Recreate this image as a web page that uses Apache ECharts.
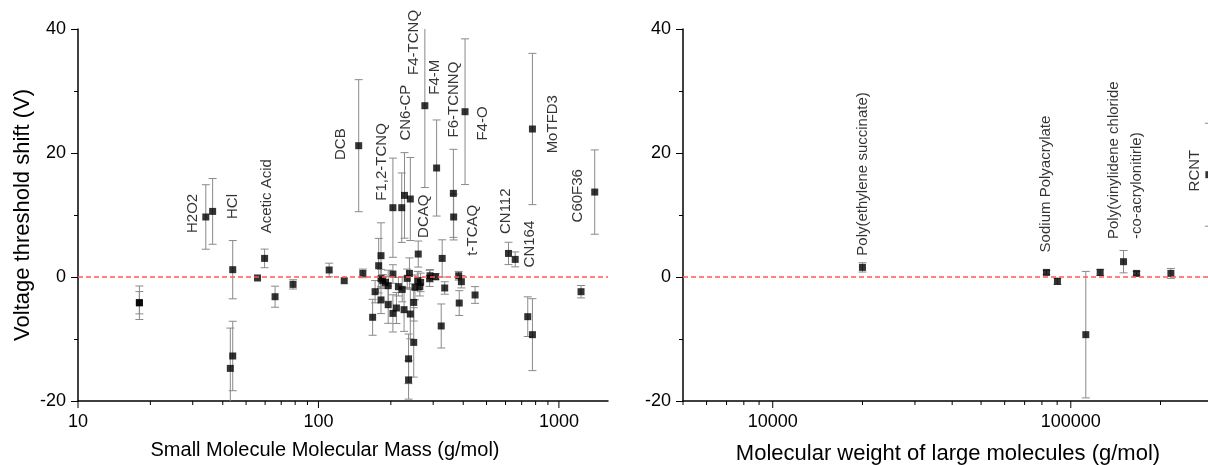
<!DOCTYPE html>
<html><head><meta charset="utf-8">
<script src="https://cdn.jsdelivr.net/npm/echarts@6/dist/echarts.min.js"></script>
<style>html,body{margin:0;padding:0;background:#fff}#c{width:1208px;height:465px}</style>
</head><body><div id="c"></div>
<script>
// ---- Small molecules (left panel) ----
const smallMass  = [18, 18, 34.0, 36.3, 44.0, 43.0, 44.0, 55.8, 59.7, 66, 78.4, 110.8, 128, 147, 153,
  168, 172, 178, 182, 182, 182, 185, 190, 195, 195, 204, 204, 204, 211, 215, 222, 223, 227, 228, 234, 239, 241, 241,
  237, 237, 249, 249, 252, 260, 259, 266, 264, 277, 291, 290, 310, 307, 327, 324, 335, 364, 365, 383, 393, 385,
  407, 448, 617, 658, 742, 776, 776, 1236, 1409];
const smallShift = [-4.15, -4.15, 9.68, 10.58, 1.18, -14.74, -12.74, -0.16, 3.0, -3.18, -1.19, 1.13, -0.6, 21.18, 0.58,
  -6.5, -2.37, 1.82, 3.44, -0.27, -3.7, -0.6, -0.87, -1.4, -4.47, 11.18, 0.48, -5.87, -5.0, -1.56, 11.18, -2.0, -5.27, 13.16, -0.22, 0.58, 12.58, -5.97,
  -13.2, -16.6, -10.55, -4.1, -1.67, 3.7, -0.6, -0.87, -1.56, 27.63, 0.2, -0.22, 17.58, 0.05, 3.0, -7.9, -1.77, 13.49, 9.68, 0.2, -0.76, -4.2,
  26.66, -2.9, 3.8, 2.84, -6.4, -9.3, 23.87, -2.37, 13.7];
const smallErr   = [2.7, 1.8, 5.2, 5.3, 4.7, 6.5, 5.6, 0, 1.5, 1.7, 0.75, 1.1, 0, 10.65, 0.7,
  2.9, 1.8, 4.4, 5.3, 1.5, 2.2, 1.0, 1.0, 2.5, 3.0, 8.0, 1.5, 3.0, 2.5, 1.5, 5.6, 2.0, 3.5, 6.9, 1.5, 2.5, 6.7, 4.0,
  4.0, 3.1, 5.6, 3.0, 2.0, 2.1, 1.5, 1.5, 1.5, 13.2, 1.0, 1.3, 7.75, 0.5, 3.0, 3.55, 1.0, 7.1, 3.7, 0.7, 1.0, 2.0,
  11.75, 1.35, 1.8, 1.2, 3.2, 5.8, 12.2, 1.0, 6.8];
const smallLabelNames = ['H2O2', 'HCl', 'Acetic Acid', 'DCB', 'F1,2-TCNQ', 'CN6-CP', 'DCAQ', 'F4-TCNQ', 'F4-M',
  'F6-TCNNQ', 'F4-O', 't-TCAQ', 'CN112', 'CN164', 'MoTFD3', 'C60F36'];
const smallLabelMass  = [29.9, 44.0, 61.1, 123.5, 184, 230, 275, 249.5, 304, 364, 481, 437, 601, 759, 941, 1197];
const smallLabelShift = [7.1, 9.35, 7.04, 18.87, 12.31, 22.0, 6.31, 32.6, 29.4, 22.5, 22.0, 3.44, 6.93, 1.55, 19.94, 8.8];

// ---- Large molecules (right panel) ----
const largeMass  = [20000, 82900, 90200, 112300, 125500, 150300, 166200, 216700, 290600];
const largeShift = [1.55, 0.74, -0.7, -9.3, 0.74, 2.47, 0.58, 0.58, 16.5];
const largeErr   = [0.75, 0.3, 0.5, 10.2, 0.5, 1.8, 0.3, 0.8, 8.3];
const largeLabelNames = ['Poly(ethylene succinate)', 'Sodium Polyacrylate',
  'Poly(vinylidene chloride\n-co-acrylonitirle)', 'RCNT'];
const largeLabelMass  = [20080, 82400, 152800, 260000];
const largeLabelShift = [3.44, 3.97, 6.13, 13.8];

// ---- Axes ----
const yMin = -20, yMax = 40, yStep = 20;
const smallXMin = 10, smallXMax = 1600;
const largeXMin = 5000, largeXMax = 300000;
const smallXTicks = [10, 20, 30, 40, 50, 60, 70, 80, 90, 100, 200, 300, 400, 500, 600, 700, 800, 900, 1000];
const largeXTicks = [5000, 6000, 7000, 8000, 9000, 10000, 20000, 30000, 40000, 50000, 60000, 70000, 80000, 90000,
  100000, 200000, 300000];
const smallXTitle = 'Small Molecule Molecular Mass (g/mol)';
const largeXTitle = 'Molecular weight of large molecules (g/mol)';
const yTitle = 'Voltage threshold shift (V)';

const FONT = '"Liberation Sans", Arial, sans-serif';
const zip3 = (a, b, c) => a.map((v, i) => [v, b[i], c[i]]);
const zip2n = (n, a, b) => n.map((v, i) => ({ name: v, value: [a[i], b[i]] }));

function errItem(params, api) {
  const x = api.value(0), y = api.value(1), e = api.value(2);
  if (!e) return null;
  const t = api.coord([x, y + e]), b = api.coord([x, y - e]);
  const cw = 4;
  const st = { stroke: '#8a8a8a', lineWidth: 1 };
  return { type: 'group', children: [
    { type: 'line', shape: { x1: t[0], y1: t[1], x2: b[0], y2: b[1] }, style: st },
    { type: 'line', shape: { x1: t[0] - cw, y1: t[1], x2: t[0] + cw, y2: t[1] }, style: st },
    { type: 'line', shape: { x1: b[0] - cw, y1: b[1], x2: b[0] + cw, y2: b[1] }, style: st }
  ]};
}
function tickItem(params, api) {
  const v = api.value(0);
  const p = api.coord([v, yMin]);
  const lg = Math.log10(v);
  const major = Math.abs(lg - Math.round(lg)) < 1e-9;
  const len = major ? 7 : 4;
  return { type: 'line', shape: { x1: p[0], y1: p[1], x2: p[0], y2: p[1] + len },
    style: { stroke: '#000', lineWidth: 1 } };
}
const powLabel = v => {
  const lg = Math.log10(v);
  return Math.abs(lg - Math.round(lg)) < 1e-6 ? String(Math.round(v)) : '';
};

function xAxis(idx, min, max, title, gap, size, pad) {
  return {
    type: 'log', logBase: 10, gridIndex: idx, min: min, max: max,
    axisLine: { show: true, onZero: false, lineStyle: { color: '#000', width: 1.5 } },
    axisTick: { show: false },
    splitLine: { show: false },
    axisLabel: { formatter: powLabel, fontSize: 18, color: '#000', fontFamily: FONT, margin: 12,
      showMinLabel: true, showMaxLabel: true },
    name: title, nameLocation: 'middle', nameGap: gap,
    nameTextStyle: { fontSize: size, color: '#000', fontFamily: FONT, padding: pad }
  };
}
function yAxis(idx, name) {
  return {
    type: 'value', gridIndex: idx, min: yMin, max: yMax, interval: yStep,
    axisLine: { show: true, onZero: false, lineStyle: { color: '#000', width: 1.5 } },
    axisTick: { show: true, length: 7, lineStyle: { color: '#000', width: 1 } },
    minorTick: { show: true, splitNumber: 2, length: 4, lineStyle: { color: '#000', width: 1 } },
    splitLine: { show: false },
    axisLabel: { fontSize: 18, color: '#000', fontFamily: FONT, margin: 12 },
    name: name, nameLocation: 'middle', nameGap: 44,
    nameTextStyle: { fontSize: 22, color: '#000', fontFamily: FONT }
  };
}
const zeroLine = {
  silent: true, symbol: 'none', label: { show: false },
  lineStyle: { color: '#ff5a5a', type: [5, 3], width: 1.5 },
  data: [{ yAxis: 0 }]
};
function labelSeries(idx, data) {
  return {
    type: 'scatter', xAxisIndex: idx, yAxisIndex: idx, symbolSize: 0, silent: true, z: 5,
    data: data,
    label: { show: true, formatter: p => p.name, position: 'inside', rotate: 90, align: 'left',
      verticalAlign: 'middle', fontSize: 15, color: '#000', fontFamily: FONT, lineHeight: 23 }
  };
}

const chart = echarts.init(document.getElementById('c'), null, { renderer: 'canvas' });
chart.setOption({
  backgroundColor: '#fff',
  animation: false,
  grid: [
    { left: 78, top: 29, width: 530, bottom: 64, containLabel: false, outerBoundsMode: 'none' },
    { left: 683, top: 29, width: 530, bottom: 64, containLabel: false, outerBoundsMode: 'none' }
  ],
  xAxis: [xAxis(0, smallXMin, smallXMax, smallXTitle, 39, 20, [0, 36, 0, 0]),
          xAxis(1, largeXMin, largeXMax, largeXTitle, 42, 22, 0)],
  yAxis: [yAxis(0, yTitle), yAxis(1, '')],
  series: [
    { type: 'custom', xAxisIndex: 0, yAxisIndex: 0, renderItem: tickItem, data: smallXTicks.map(v => [v]), clip: false, silent: true },
    { type: 'custom', xAxisIndex: 1, yAxisIndex: 1, renderItem: tickItem, data: largeXTicks.map(v => [v]), clip: false, silent: true },
    { type: 'custom', xAxisIndex: 0, yAxisIndex: 0, renderItem: errItem, data: zip3(smallMass, smallShift, smallErr), clip: true, silent: true, z: 2 },
    { type: 'custom', xAxisIndex: 1, yAxisIndex: 1, renderItem: errItem, data: zip3(largeMass, largeShift, largeErr), clip: true, silent: true, z: 2 },
    { type: 'scatter', xAxisIndex: 0, yAxisIndex: 0, symbol: 'rect', symbolSize: 7, itemStyle: { color: '#000' }, z: 3,
      data: smallMass.map((v, i) => [v, smallShift[i]]), markLine: zeroLine },
    { type: 'scatter', xAxisIndex: 1, yAxisIndex: 1, symbol: 'rect', symbolSize: 7, itemStyle: { color: '#000' }, z: 3,
      data: largeMass.map((v, i) => [v, largeShift[i]]), markLine: zeroLine },
    labelSeries(0, zip2n(smallLabelNames, smallLabelMass, smallLabelShift)),
    labelSeries(1, zip2n(largeLabelNames, largeLabelMass, largeLabelShift))
  ]
});
</script>
</body></html>
